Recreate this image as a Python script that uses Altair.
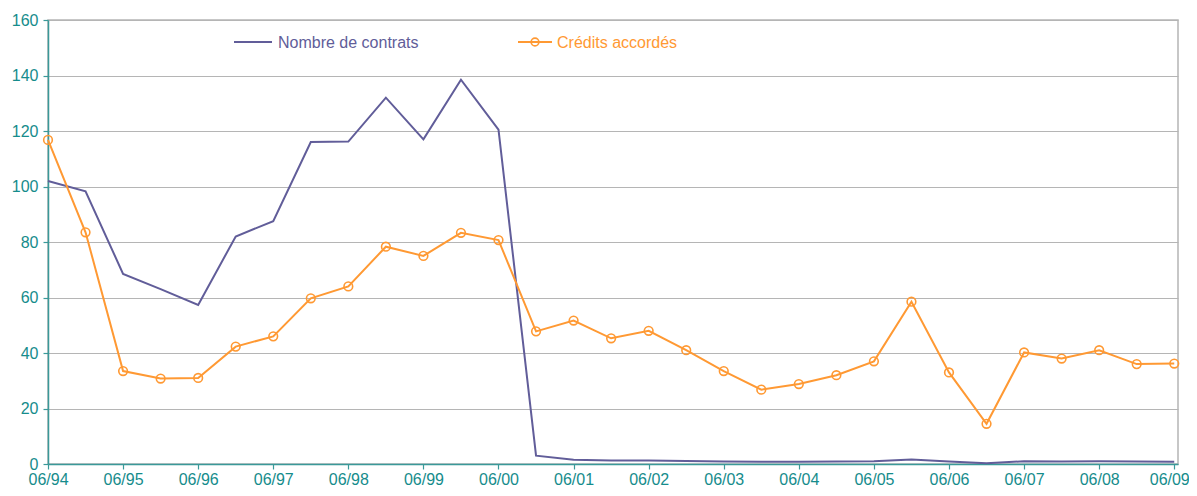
import altair as alt
import pandas as pd

periods = ["06/94", "12/94", "06/95", "12/95", "06/96", "12/96", "06/97", "12/97",
           "06/98", "12/98", "06/99", "12/99", "06/00", "12/00", "06/01", "12/01",
           "06/02", "12/02", "06/03", "12/03", "06/04", "12/04", "06/05", "12/05",
           "06/06", "12/06", "06/07", "12/07", "06/08", "12/08", "06/09"]

contrats = [102.0, 98.3, 68.5, 63.0, 57.3, 82.0, 87.5, 116.0,
            116.2, 132.0, 117.0, 138.5, 120.5, 3.0, 1.5, 1.3,
            1.3, 1.1, 0.9, 0.8, 0.8, 0.9, 1.0, 1.6,
            0.9, 0.3, 1.0, 0.9, 1.0, 0.9, 0.8]

credits = [116.8, 83.5, 33.5, 30.8, 31.0, 42.3, 46.0, 59.7,
           64.0, 78.3, 75.0, 83.3, 80.7, 47.8, 51.7, 45.3,
           48.0, 41.0, 33.5, 26.8, 28.8, 32.0, 37.0, 58.5,
           33.0, 14.5, 40.2, 38.0, 41.0, 36.0, 36.2]

year_ticks = periods[::2]
y_ticks = [0, 20, 40, 60, 80, 100, 120, 140, 160]
legend_names = ["Nombre de contrats", "Crédits accordés"]

PURPLE = "#615d99"
ORANGE = "#ff9933"
TEAL = "#168c8c"
AXIS_TEAL = "#3a9999"
GRID = "#b5b5b5"
FONT = "Liberation Sans"

df = pd.DataFrame({"i": list(range(len(periods))), "periode": periods,
                   "contrats": contrats, "credits": credits})
leg_df1 = pd.DataFrame({"name": [legend_names[0]]})
leg_df2 = pd.DataFrame({"name": [legend_names[1]]})

label_js = "[" + ",".join(f"'{t}'" for t in year_ticks) + "]"
x_scale = alt.Scale(domain=[0, 30.1], nice=False, zero=False)

x_enc = alt.X("i:Q", scale=x_scale,
              axis=alt.Axis(values=list(range(0, 31, 2)),
                            labelExpr=f"{label_js}[round(datum.value/2)]",
                            title=None, grid=False, domainColor=AXIS_TEAL,
                            domainWidth=1.5, tickColor=AXIS_TEAL, tickWidth=1.2,
                            tickSize=5, labelColor=TEAL, labelFontSize=16,
                            labelFont=FONT, labelPadding=2, labelFlush=False,
                            labelOverlap=False,
                            labelOffset={"condition": {"test": "datum.value >= 30", "value": -5},
                                         "value": 0}))

y_scale = alt.Scale(domain=[0, 160], nice=False)

base = alt.Chart(df)

grid_axis = alt.Y("contrats:Q", scale=y_scale,
                  axis=alt.Axis(values=y_ticks, title=None, grid=True,
                                gridColor=GRID, gridWidth=1.2,
                                domainColor=AXIS_TEAL, domainWidth=1.5,
                                tickColor=AXIS_TEAL, tickWidth=1.2, tickSize=5,
                                labelColor=TEAL, labelFontSize=16, labelFont=FONT,
                                labelPadding=5))

line_contrats = base.mark_line(color=PURPLE, strokeWidth=2).encode(
    x=x_enc, y=grid_axis)

line_credits = base.mark_line(color=ORANGE, strokeWidth=2).encode(
    x=alt.X("i:Q", scale=x_scale),
    y=alt.Y("credits:Q", scale=y_scale))

pts_credits = base.mark_point(color=ORANGE, filled=False, size=75,
                              strokeWidth=1.6, opacity=1).encode(
    x=alt.X("i:Q", scale=x_scale),
    y=alt.Y("credits:Q", scale=y_scale))

# legend (manual, single-row data)
leg1_line = alt.Chart(leg_df1).mark_rule(color=PURPLE, strokeWidth=2).encode(
    x=alt.value(186), x2=alt.value(224), y=alt.value(22))
leg1_text = alt.Chart(leg_df1).mark_text(align="left", baseline="middle", color=PURPLE,
                                         fontSize=16, font=FONT).encode(
    x=alt.value(230), y=alt.value(23), text="name:N")
leg2_line = alt.Chart(leg_df2).mark_rule(color=ORANGE, strokeWidth=2).encode(
    x=alt.value(470), x2=alt.value(504), y=alt.value(22))
leg2_pt = alt.Chart(leg_df2).mark_point(color=ORANGE, filled=False, size=60,
                                        strokeWidth=1.6, opacity=1).encode(
    x=alt.value(487), y=alt.value(22))
leg2_text = alt.Chart(leg_df2).mark_text(align="left", baseline="middle", color=ORANGE,
                                         fontSize=16, font=FONT).encode(
    x=alt.value(509), y=alt.value(23), text="name:N")

chart = alt.layer(line_contrats, line_credits, pts_credits,
                  leg1_line, leg1_text, leg2_line, leg2_pt, leg2_text).properties(
    width=1130, height=444,
    autosize=alt.AutoSizeParams(type="none"),
    padding={"left": 40, "top": 12, "right": 11, "bottom": 24},
    background="white",
).configure_view(stroke=GRID, strokeWidth=1.5)

chart.save("out.html", embed_options={"renderer": "svg", "actions": False})
